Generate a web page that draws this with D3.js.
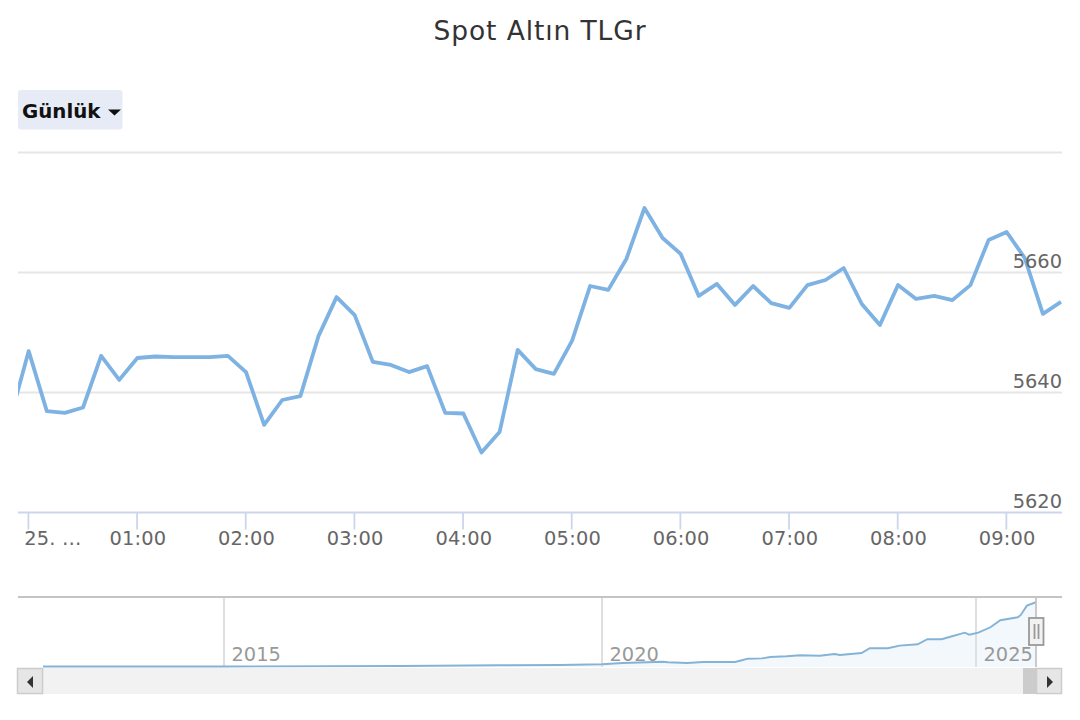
<!DOCTYPE html>
<html>
<head>
<meta charset="utf-8">
<script src="https://cdn.jsdelivr.net/npm/d3@7"></script>
<style>
html,body{margin:0;padding:0;background:#fff}
svg{display:block}
text{font-family:"DejaVu Sans",sans-serif}
</style>
</head>
<body>
<svg id="chart" width="1080" height="720"></svg>
<script>
const titleText = "Spot Altın TLGr";
const rangeLabel = "Günlük";
// minutes after 00:00, one reading each 10 minutes; first reading is left of the visible window
const priceMinutes = [-10,0,10,20,30,40,50,60,70,80,90,100,110,120,130,140,150,160,170,180,190,200,210,220,230,240,250,260,270,280,290,300,310,320,330,340,350,360,370,380,390,400,410,420,430,440,450,460,470,480,490,500,510,520,530,540,550,560,570];
const priceValues = [5635.9,5646.9,5636.9,5636.6,5637.5,5646.1,5642.1,5645.75,5646,5645.9,5645.9,5645.9,5646.1,5643.4,5634.6,5638.75,5639.4,5649.4,5655.9,5652.9,5645.1,5644.6,5643.4,5644.4,5636.6,5636.5,5630,5633.4,5647.1,5643.9,5643.1,5648.6,5657.75,5657.1,5662.25,5670.75,5665.75,5663.1,5656.1,5658.1,5654.6,5657.75,5654.9,5654.1,5657.9,5658.75,5660.75,5654.75,5651.25,5657.9,5655.6,5656.1,5655.4,5657.9,5665.4,5666.75,5662.4,5653.1,5655.1];
const xTickMinutes = [0,60,120,180,240,300,360,420,480,540];
const xTickLabels = ["25. …","01:00","02:00","03:00","04:00","05:00","06:00","07:00","08:00","09:00"];
const yGridValues = [5620,5640,5660,5680];
const yLabelValues = [5620,5640,5660];
const navYears = [2012.6,2015,2017.33,2018.65,2019.44,2020,2020.28,2020.82,2020.88,2021.14,2021.35,2021.78,2021.87,2021.95,2022.14,2022.25,2022.47,2022.65,2022.91,2023.11,2023.18,2023.47,2023.58,2023.82,2023.98,2024.22,2024.35,2024.54,2024.68,2024.85,2024.91,2025.03,2025.19,2025.32,2025.55,2025.59,2025.67,2025.79];
const navValues = [90,95,133,195,220,281,395,508,455,395,480,480,630,770,800,915,977,1064,1020,1177,1090,1265,1673,1673,1900,2020,2456,2456,2717,3030,2857,3030,3500,4110,4370,4570,5380,5675];
const navTickYears = [2015,2020,2025];

const svg = d3.select("#chart");
const plotL = 18, plotR = 1062, plotT = 152.5, plotB = 512.5;
const navT = 597, navB = 667, sbT = 668, sbB = 694;

const x = d3.scaleLinear().domain([0,570]).range([28.7,1061]);
const y = d3.scaleLinear().domain([5620,5680]).range([plotB,plotT]);

svg.append("text").attr("x",540).attr("y",40).attr("text-anchor","middle")
  .attr("font-size",26.5).attr("letter-spacing",0.9).attr("fill","#333").text(titleText);

// range button
const btn = svg.append("g");
btn.append("rect").attr("x",18).attr("y",90).attr("width",104.5).attr("height",39.5).attr("rx",3).attr("fill","#e6ebf5");
btn.append("text").attr("x",22).attr("y",117.5).attr("font-size",19.8).attr("font-weight","bold").attr("fill","#111").text(rangeLabel);
btn.append("path").attr("d","M108,109.5 L121,109.5 L114.5,115.5 Z").attr("fill","#111");

// grid
svg.append("g").selectAll("line").data(yGridValues.slice(1)).join("line")
  .attr("x1",plotL).attr("x2",plotR).attr("y1",d=>y(d)).attr("y2",d=>y(d))
  .attr("stroke","#e6e6e6").attr("stroke-width",1.8);

// clip + line
svg.append("clipPath").attr("id","plotClip").append("rect")
  .attr("x",plotL).attr("y",plotT-5).attr("width",plotR-plotL).attr("height",plotB-plotT+5);
const lineGen = d3.line().x((d,i)=>x(priceMinutes[i])).y(d=>y(d));
svg.append("path").datum(priceValues).attr("d",lineGen).attr("clip-path","url(#plotClip)")
  .attr("fill","none").attr("stroke","#7db2e2").attr("stroke-width",3.8).attr("stroke-linejoin","round");

// x axis
const xAxis = d3.axisBottom(x).tickValues(xTickMinutes).tickSize(17).tickPadding(2)
  .tickFormat((d,i)=>xTickLabels[i]);
const gx = svg.append("g").attr("transform",`translate(-0.8,${plotB})`).call(xAxis);
gx.select(".domain").remove();
gx.selectAll(".tick line").attr("stroke","#ccd6eb").attr("stroke-width",1.8);
gx.selectAll(".tick text").attr("font-size",19.4).attr("fill","#666").attr("font-family","DejaVu Sans").attr("letter-spacing",0.2).attr("dx",0.8);
gx.selectAll(".tick text").filter((d,i)=>i===0).attr("dx",24.5);
svg.append("line").attr("x1",plotL).attr("x2",plotR).attr("y1",plotB).attr("y2",plotB)
  .attr("stroke","#ccd6eb").attr("stroke-width",1.8);

// y labels
svg.append("g").selectAll("text").data(yLabelValues).join("text")
  .attr("x",plotR).attr("y",d=>y(d)-4.5).attr("text-anchor","end")
  .attr("font-size",19.4).attr("fill","#666").text(d=>d);

// navigator
const nx = d3.scaleLinear().domain([2012.6,2015,2020,2025,2025.79]).range([43,224,602,976,1036]);
const ny = d3.scaleLinear().domain([90,5670]).range([666.5,602.3]);
svg.append("path").datum(navValues)
  .attr("d",d3.area().x((d,i)=>nx(navYears[i])).y0(navB).y1(d=>ny(d)))
  .attr("fill","#7cb5ec").attr("fill-opacity",0.09);
svg.append("g").selectAll("line").data(navTickYears).join("line")
  .attr("x1",d=>nx(d)).attr("x2",d=>nx(d)).attr("y1",navT).attr("y2",navB)
  .attr("stroke","#dcdcdc").attr("stroke-width",1.8);
svg.append("g").selectAll("text").data(navTickYears).join("text")
  .attr("x",d=>nx(d)+7.5).attr("y",660.5).attr("font-size",19.4).attr("fill","#999").text(d=>d);
svg.append("path").datum(navValues)
  .attr("d",d3.line().x((d,i)=>nx(navYears[i])).y(d=>ny(d)))
  .attr("fill","none").attr("stroke","#85b3d6").attr("stroke-width",1.9);
svg.append("line").attr("x1",plotL).attr("x2",plotR).attr("y1",navT).attr("y2",navT)
  .attr("stroke","#c4c4c4").attr("stroke-width",1.8);
svg.append("line").attr("x1",1036).attr("x2",1036).attr("y1",navT).attr("y2",navB)
  .attr("stroke","#c4c4c4").attr("stroke-width",1.8);

// navigator handle
const h = svg.append("g");
h.append("rect").attr("x",1029).attr("y",618).attr("width",14.5).attr("height",27)
  .attr("fill","#f2f2f2").attr("stroke","#999").attr("stroke-width",1.8);
h.append("path").attr("d","M1034.5,624 V639 M1038.5,624 V639").attr("stroke","#999").attr("stroke-width",1.8).attr("fill","none");

// scrollbar
const sb = svg.append("g");
sb.append("rect").attr("x",17).attr("y",sbT).attr("width",1045).attr("height",sbB-sbT).attr("fill","#f2f2f2");
sb.append("rect").attr("x",1023).attr("y",sbT).attr("width",13).attr("height",sbB-sbT).attr("fill","#cccccc");
sb.append("rect").attr("x",17.5).attr("y",sbT+0.5).attr("width",25).attr("height",sbB-sbT-1).attr("fill","#e6e6e6").attr("stroke","#cccccc").attr("stroke-width",1.5);
sb.append("rect").attr("x",1036.5).attr("y",sbT+0.5).attr("width",25).attr("height",sbB-sbT-1).attr("fill","#e6e6e6").attr("stroke","#cccccc").attr("stroke-width",1.5);
sb.append("path").attr("d","M33,676 L27,682 L33,688 Z").attr("fill","#333");
sb.append("path").attr("d","M1047,676 L1053,682 L1047,688 Z").attr("fill","#333");
</script>
</body>
</html>
